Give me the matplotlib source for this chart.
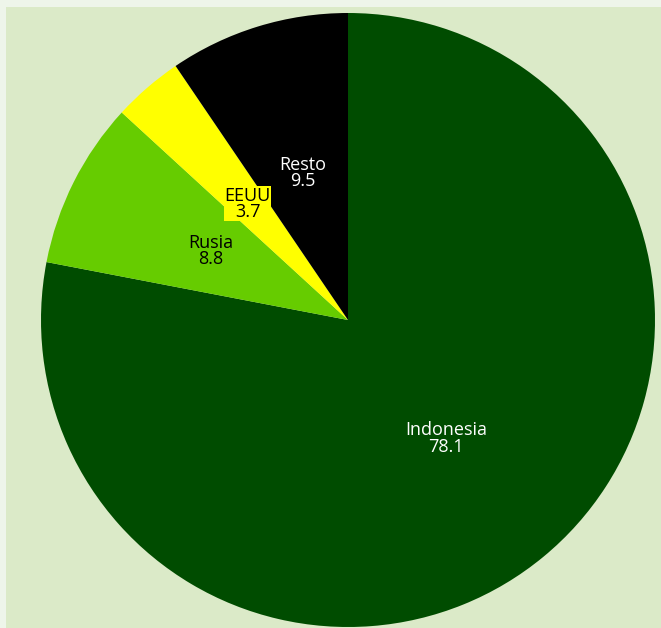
import matplotlib
matplotlib.use("Agg")
import matplotlib.pyplot as plt
from matplotlib.patches import Rectangle
import numpy as np

labels = ["Indonesia", "Rusia", "EEUU", "Resto"]
values = [78.1, 8.8, 3.7, 9.5]
colors = ["#004c00", "#66cc00", "#ffff00", "#000000"]
text_colors = ["white", "black", "black", "white"]

W, H = 661, 628
fig = plt.figure(figsize=(W / 100, H / 100), dpi=100)
fig.patch.set_facecolor("#eef5ea")
fig.add_artist(Rectangle((6 / W, 0), 1 - 6 / W, 1 - 7 / H, transform=fig.transFigure,
                         facecolor="#dbeac8", edgecolor="none", zorder=0))

cx, cy, r = 348, 628 - 320, 307
ax = fig.add_axes([(cx - r) / W, (cy - r) / H, 2 * r / W, 2 * r / H])
ax.set_facecolor("none")
wedges, texts = ax.pie(values, colors=colors, startangle=90, counterclock=False,
                       radius=1, wedgeprops=dict(linewidth=0))
total = sum(values)
cum = 0
for i, (lab, v) in enumerate(zip(labels, values)):
    mid = 90 - (cum + v / 2) / total * 360
    cum += v
    x = 0.5 * np.cos(np.radians(mid))
    y = 0.5 * np.sin(np.radians(mid))
    kw = {}
    if lab == "EEUU":
        kw["bbox"] = dict(boxstyle="square,pad=0.02", facecolor="#ffff00", edgecolor="none")
    ax.text(x, y, f"{lab}\n{v}", ha="center", va="center", fontsize=13,
            color=text_colors[i], family=["Open Sans", "DejaVu Sans"], linespacing=0.88, **kw)
ax.set_xlim(-1, 1)
ax.set_ylim(-1, 1)
ax.set_aspect("auto")
ax.axis("off")
fig.savefig("out.png", dpi=100, facecolor=fig.get_facecolor())
